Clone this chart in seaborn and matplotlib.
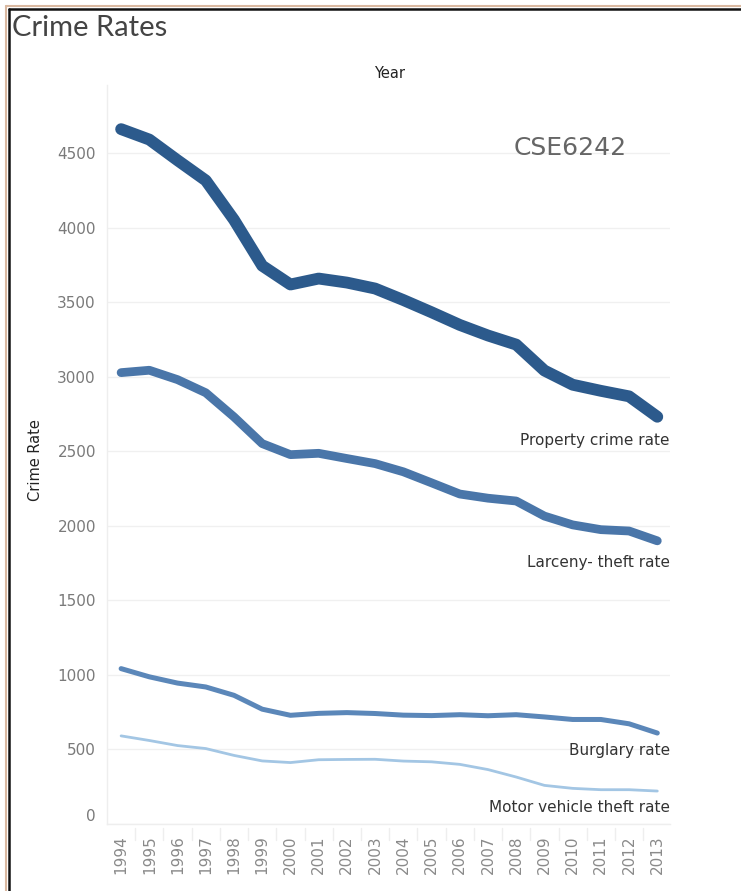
import pandas as pd
import matplotlib.pyplot as plt
import matplotlib.lines as mlines
import seaborn as sns

# values (rate per 100,000)
years = list(range(1994, 2014))
property_rate = [4660, 4590, 4451, 4316, 4052, 3744, 3618, 3658, 3631, 3591,
                 3514, 3432, 3347, 3276, 3215, 3041, 2946, 2905, 2868, 2731]
larceny_rate = [3027, 3043, 2980, 2892, 2730, 2551, 2477, 2486, 2451, 2417,
                2362, 2288, 2213, 2185, 2166, 2065, 2006, 1974, 1965, 1899]
burglary_rate = [1042, 987, 945, 919, 863, 770, 729, 742, 747, 741,
                 730, 727, 733, 726, 733, 718, 701, 701, 672, 610]
motor_rate = [591, 560, 526, 506, 460, 423, 412, 431, 433, 434,
              422, 417, 400, 365, 315, 259, 239, 230, 230, 221]
series_names = ["Property crime rate", "Larceny- theft rate",
                "Burglary rate", "Motor vehicle theft rate"]
y_ticks = [0, 500, 1000, 1500, 2000, 2500, 3000, 3500, 4000, 4500]

df = pd.DataFrame({
    "Year": years * 4,
    "Crime Rate": property_rate + larceny_rate + burglary_rate + motor_rate,
    "Series": [n for n in series_names for _ in years],
})

colors = ["#2c5a8c", "#4a76a9", "#5b87b9", "#a3c6e4"]
widths = [8.5, 6.3, 3.6, 2.0]
label_y = [2575, 1757, 490, 114]

sns.set_theme(style="white")
plt.rcParams['font.family'] = ['DejaVu Sans']

fig = plt.figure(figsize=(7.41, 8.91), dpi=100)
ax = fig.add_axes([107 / 741, 67 / 891, 563 / 741, 739 / 891])

for name, color, lw in zip(series_names, colors, widths):
    sns.lineplot(data=df[df["Series"] == name], x="Year", y="Crime Rate",
                 color=color, linewidth=lw, ax=ax, solid_capstyle="round",
                 solid_joinstyle="round", zorder=3)

# direct labels at the right end
for name, ly in zip(series_names, label_y):
    ax.text(2013.45, ly, name, ha="right", va="center", fontsize=11, color="#333333")

ax.text(2011.9, 4534, "CSE6242", ha="right", va="center", fontsize=18, color="#666666")

ax.set_xlim(1993.5, 2013.45)
ax.set_ylim(0, 4956)
ax.set_yticks(y_ticks)
ax.set_yticklabels([str(t) for t in y_ticks], fontsize=11, color="#7a7a7a")
ax.get_yticklabels()[0].set_verticalalignment("bottom")
ax.set_xticks(years)
ax.set_xticklabels([str(y) for y in years], rotation=90, fontsize=11, color="#8a8a8a")
ax.tick_params(axis="both", length=0, pad=8)
ax.yaxis.grid(True, color="#f0f0f0", linewidth=1)
ax.xaxis.grid(False)
for s in ["top", "right"]:
    ax.spines[s].set_visible(False)
for s in ["left", "bottom"]:
    ax.spines[s].set_color("#eeeeee")
    ax.spines[s].set_linewidth(1)

# small separators between year labels
for x in [y + 0.5 for y in years[:-1]]:
    ax.plot([x, x], [-25, -110], color="#eeeeee", linewidth=1, clip_on=False)

ax.set_xlabel("")
ax.set_ylabel("")
fig.text(35 / 741, 1 - 460 / 891, "Crime Rate", ha="center", va="center", rotation=90,
         fontsize=10.5, color="#222222")
fig.text(390 / 741, 1 - 73 / 891, "Year", ha="center", va="center", fontsize=10.5,
         color="#222222")
fig.text(12 / 741, 1 - 28 / 891, "Crime Rates", ha="left", va="center", fontsize=21,
         color="#444444", family="Lato")

# dashboard frame
fig.add_artist(mlines.Line2D([6 / 741, 1], [1 - 6 / 891, 1 - 6 / 891], color="#d9b8a0", linewidth=1.5))
fig.add_artist(mlines.Line2D([6 / 741, 6 / 741], [0, 1 - 6 / 891], color="#d9b8a0", linewidth=1.5))
fig.add_artist(mlines.Line2D([8.5 / 741, 1], [1 - 8.5 / 891, 1 - 8.5 / 891], color="#111111", linewidth=1.8))
fig.add_artist(mlines.Line2D([8.5 / 741, 8.5 / 741], [0, 1 - 8.5 / 891], color="#111111", linewidth=1.8))

fig.savefig("out.png", dpi=100)
